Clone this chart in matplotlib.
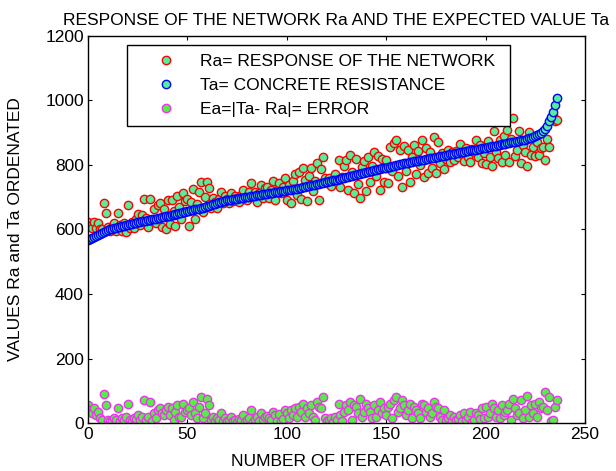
import numpy as np
import matplotlib.pyplot as plt

plt.rcParams['font.family'] = ['Liberation Sans', 'DejaVu Sans']

# Ta: expected (concrete resistance), ordered ascending
ta = [567, 571, 575, 578, 581, 584, 587, 590, 593, 596,
      598, 600, 602, 604, 606, 607, 609, 610, 612, 613,
      615, 616, 618, 619, 620, 622, 623, 625, 626, 627,
      629, 630, 631, 633, 634, 635, 637, 638, 639, 641,
      642, 643, 645, 646, 647, 649, 650, 651, 653, 654,
      656, 657, 659, 660, 662, 663, 665, 667, 668, 670,
      672, 674, 676, 678, 680, 682, 684, 686, 688, 689,
      691, 692, 693, 694, 695, 696, 697, 698, 699, 700,
      701, 702, 703, 704, 705, 706, 707, 708, 709, 710,
      711, 712, 713, 714, 715, 716, 717, 718, 719, 720,
      721, 722, 723, 725, 726, 727, 729, 730, 731, 733,
      734, 735, 737, 738, 739, 741, 742, 744, 745, 746,
      748, 749, 750, 752, 753, 755, 756, 758, 759, 761,
      762, 764, 765, 767, 769, 770, 772, 773, 775, 776,
      778, 779, 781, 782, 784, 785, 787, 788, 790, 791,
      792, 794, 795, 797, 798, 799, 801, 802, 803, 805,
      806, 807, 808, 810, 811, 812, 813, 815, 816, 817,
      818, 819, 821, 822, 823, 824, 825, 827, 828, 829,
      830, 831, 833, 834, 835, 836, 837, 839, 840, 841,
      842, 843, 845, 846, 847, 848, 849, 851, 852, 853,
      854, 855, 856, 858, 859, 860, 861, 862, 864, 865,
      866, 867, 868, 870, 871, 872, 873, 875, 876, 878,
      879, 881, 883, 885, 887, 889, 892, 895, 899, 905,
      912, 922, 935, 950, 965, 985, 1008]

# Ra: network response
ra = [622, 611, 605, 623, 606, 619, 602, 600, 683, 651,
      608, 595, 607, 619, 596, 652, 614, 595, 620, 593,
      675, 606, 623, 604, 632, 647, 615, 645, 696, 637,
      609, 695, 626, 663, 619, 675, 682, 608, 664, 601,
      692, 618, 690, 656, 612, 704, 670, 631, 713, 689,
      696, 612, 684, 725, 632, 678, 715, 747, 653, 700,
      747, 729, 666, 698, 685, 667, 694, 716, 683, 704,
      696, 682, 713, 689, 705, 699, 685, 706, 724, 696,
      693, 717, 743, 701, 717, 686, 713, 738, 699, 728,
      733, 697, 723, 749, 690, 721, 745, 712, 731, 760,
      691, 737, 683, 750, 771, 707, 779, 695, 791, 753,
      689, 765, 792, 718, 749, 806, 692, 789, 825, 761,
      743, 759, 735, 755, 773, 747, 816, 733, 764, 796,
      817, 724, 830, 777, 714, 820, 742, 698, 795, 811,
      718, 824, 746, 797, 839, 765, 827, 723, 820, 746,
      817, 744, 855, 782, 868, 879, 766, 847, 733, 860,
      781, 847, 748, 825, 861, 772, 843, 800, 876, 762,
      853, 774, 841, 792, 888, 774, 870, 807, 838, 789,
      820, 846, 808, 839, 815, 844, 825, 864, 834, 811,
      852, 825, 810, 850, 839, 878, 824, 863, 807, 838,
      804, 875, 826, 798, 904, 840, 821, 877, 809, 890,
      831, 907, 808, 880, 946, 827, 848, 905, 806, 863,
      839, 796, 903, 830, 857, 829, 872, 830, 854, 855,
      817, 882, 855, 945, 955, 935, 938]

ta = np.array(ta)
ra = np.array(ra)
ea = np.abs(ta - ra)
it = np.arange(len(ta))

fs = 12.5

fig = plt.figure(figsize=(6.16, 4.71), dpi=100)
ax = fig.add_axes([0.1429, 0.1019, 0.8068, 0.8217])

ms = 6
ax.plot(it, ra, 'o', ms=ms, mfc='#55ee99', mec='red', mew=1.0,
        label='Ra= RESPONSE OF THE NETWORK')
ax.plot(it, ta, 'o', ms=ms, mfc='#55ee99', mec='blue', mew=1.0,
        label='Ta= CONCRETE RESISTANCE')
ax.plot(it, ea, 'o', ms=ms, mfc='#55ee44', mec='#ee33ee', mew=1.0,
        label='Ea=|Ta- Ra|= ERROR')

ax.set_xlim(0, 250)
ax.set_ylim(0, 1200)
ax.set_xticks(range(0, 251, 50))
ax.set_yticks(range(0, 1201, 200))
ax.tick_params(direction='in', top=True, right=True, labelsize=fs, length=3, pad=3)
for s in ax.spines.values():
    s.set_linewidth(1.0)

ax.set_title('RESPONSE OF THE NETWORK Ra AND THE EXPECTED VALUE Ta', fontsize=fs, pad=8)
ax.set_xlabel('NUMBER OF ITERATIONS', fontsize=fs)
ax.set_ylabel('VALUES Ra and Ta ORDENATED', fontsize=fs)
ax.xaxis.set_label_coords(0.5, -0.08)
ax.yaxis.set_label_coords(-0.13, 0.5)

leg = ax.legend(loc='upper left', bbox_to_anchor=(0.078, 0.765, 0.771, 0.212),
                mode='expand', fancybox=False, framealpha=1, edgecolor='black',
                fontsize=fs, handlelength=3.5, handletextpad=0.2, borderpad=0.5,
                labelspacing=0.52, numpoints=1, borderaxespad=0)
leg.get_frame().set_linewidth(1.0)

fig.savefig('out.png', dpi=100)
